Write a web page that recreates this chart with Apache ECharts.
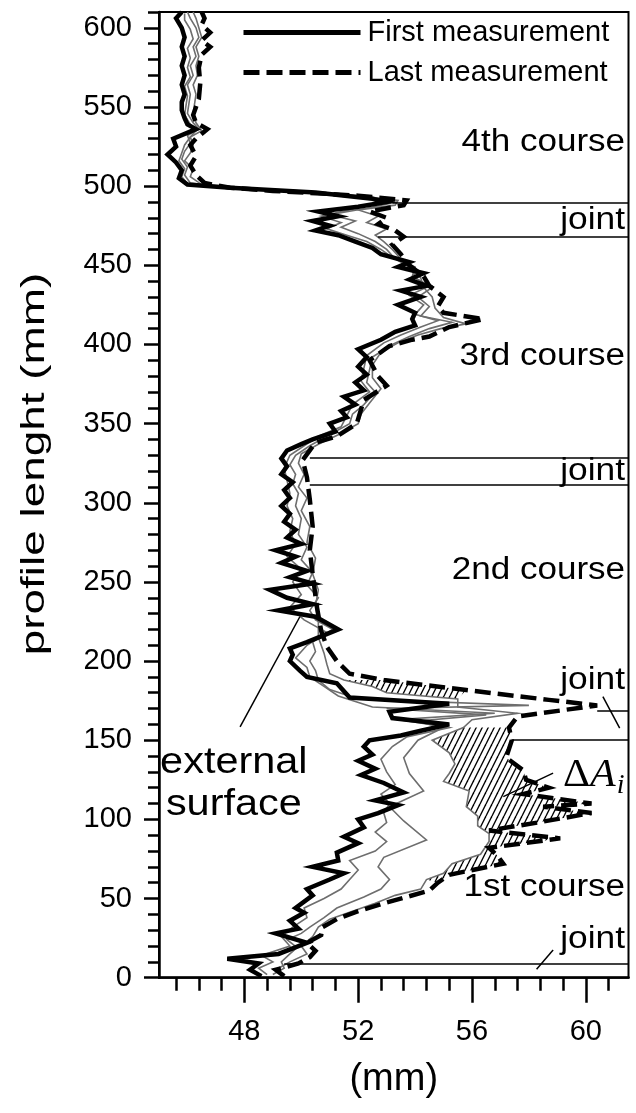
<!DOCTYPE html>
<html><head><meta charset="utf-8">
<script src="https://cdn.jsdelivr.net/npm/echarts@6/dist/echarts.min.js"></script>
<style>html,body{margin:0;padding:0;background:#fff}#c{width:636px;height:1113px}</style>
</head><body><div id="c"></div>
<script>
// ---- data: [x (mm), profile length (mm)] ----
const firstMeasurement = [
[48.6,1],[48.2,5],[48.5,9],[47.4,12],[49.2,15],[50.2,22],[49.1,28],[49.9,31],[49.6,36],[50.1,41],[49.8,44],[50.4,52],[50.2,56],[51.0,62],[51.5,66],[50.4,70],[51.3,74],[51.25,79],[52.0,85],[51.5,89],[52.2,95],[52.0,100],[52.7,104],[53.4,109],[52.6,112],[53.6,117],[52.9,123],[52.1,128],[52.6,132],[52.0,137],[52.5,141],[52.2,146],[52.4,150],[53.5,153],[54.2,156],[55.2,160],[53.2,164],[53.1,168],[55.2,173],[51.7,177],[51.25,186],[50.2,190],[49.95,194],[49.6,200],[49.7,204],[49.6,208],[50.2,212],[51.3,220],[50.5,228],[49.2,232],[50.4,236],[49.5,240],[48.9,245],[50.4,249],[49.6,253],[50.2,257],[49.3,262],[49.8,266],[49.1,270],[50.0,274],[49.5,278],[49.8,283],[49.4,288],[49.6,293],[49.3,298],[49.6,303],[49.4,308],[49.7,313],[49.3,318],[49.5,323],[49.3,328],[49.5,333],[50.0,337],[50.4,340],[51.2,345],[51.0,350],[51.6,354],[51.4,358],[51.9,362],[51.5,367],[52.2,371],[51.9,376],[52.3,381],[52.0,386],[52.3,392],[52.0,397],[52.8,403],[53.3,408],[54.0,412],[53.9,416],[54.0,420],[53.4,425],[54.2,430],[53.5,434],[54.4,437],[53.8,441],[54.3,445],[53.4,449],[53.8,452],[52.8,457],[52.5,461],[51.9,465],[51.3,469],[50.5,472],[51.0,475],[50.4,478],[51.3,481],[50.6,484],[52.0,487],[53.0,490],[52.5,492],[50.5,496],[47.5,499],[46.0,501],[45.7,505],[45.8,510],[45.6,515],[45.3,520],[45.6,525],[45.5,530],[46.3,536],[46.0,539],[45.9,543],[45.8,548],[45.8,553],[45.9,558],[45.8,564],[45.9,570],[45.8,576],[45.9,582],[45.8,588],[45.9,594],[45.8,600],[45.6,606],[45.8,610]
];
const lastMeasurement = [
[49.4,1],[49.1,5],[49.9,9],[50.3,13],[50.5,17],[50.2,22],[50.7,27],[50.75,32],[51.25,37],[52.0,42],[52.9,47],[53.7,51],[54.5,55],[54.8,60],[55.2,65],[57.1,72],[56.9,77],[56.6,82],[59.1,88],[56.6,93],[58.3,98],[60.2,104],[58.5,108],[60.2,110],[57.8,116],[58.7,120],[57.9,125],[57.8,131],[57.2,139],[57.4,150],[57.3,158],[57.6,165],[60.4,172],[58.7,175.5],[55.8,181.7],[52.9,188],[51.7,192],[51.25,200],[50.9,209],[50.7,219],[50.55,234],[50.4,255],[50.3,270],[50.4,285],[50.3,302],[50.2,316],[50.05,327],[50.5,338],[51.25,342],[51.95,350],[52.2,365],[53.0,374],[52.7,380],[52.4,390],[53.1,399],[53.9,403],[54.5,405],[55.2,411],[56.4,416],[55.0,420],[54.8,424],[55.0,430],[54.5,437],[54.3,443],[53.8,450],[53.5,457],[53.2,463],[53.6,468],[53.3,472],[52.7,476],[53.0,480],[52.4,484],[53.6,488],[53.7,491],[52.0,494],[49.0,497],[47.5,499],[46.6,502],[46.3,507],[46.1,513],[46.3,519],[46.1,526],[46.3,530],[46.7,536],[46.3,540],[46.2,545],[46.4,555],[46.45,565],[46.4,575],[46.5,583],[46.8,588],[46.5,592],[46.8,597],[46.5,602],[46.6,606],[46.5,610]
];
const intermediate1 = [
[48.8,2],[48.5,6],[49.0,10],[48.6,14],[49.6,20],[49.3,26],[49.7,32],[50.2,38],[50.1,44],[50.8,50],[51.4,56],[51.7,62],[52.0,68],[51.7,74],[52.6,80],[53.0,86],[52.6,92],[53.0,98],[52.9,104],[53.1,110],[52.8,116],[53.3,122],[53.0,130],[52.8,138],[53.2,146],[53.7,152],[55.2,158],[53.4,163],[56.8,167],[52.5,171],[51.3,178],[50.8,184],[50.3,190],[50.2,196],[49.8,202],[50.2,210],[50.9,218],[50.1,226],[49.6,234],[50.0,242],[49.7,250],[50.0,258],[49.5,266],[49.8,274],[49.6,282],[49.7,290],[49.5,298],[49.6,306],[49.5,314],[49.4,322],[49.6,330],[50.1,336],[50.6,342],[51.4,348],[51.6,355],[51.8,362],[52.4,370],[52.1,377],[52.2,385],[52.3,393],[52.9,401],[53.5,406],[54.2,411],[54.8,415],[54.0,419],[54.3,425],[53.8,431],[54.5,437],[53.9,443],[54.0,449],[53.2,455],[52.8,460],[52.3,465],[51.6,469],[50.9,473],[51.4,477],[50.7,481],[51.7,485],[52.6,489],[52.8,492],[50.3,496],[47.5,499],[46.0,501.5],[45.8,506],[45.9,511],[45.7,516],[45.8,521],[45.9,526],[46.1,531],[46.3,535],[46.1,539],[45.9,545],[45.95,551],[46.0,557],[45.9,563],[46.1,569],[46.0,575],[46.1,581],[46.0,587],[46.2,593],[46.1,599],[45.9,605],[45.9,609]
];
const intermediate2 = [
[49.0,2],[49.4,6],[49.3,10],[49.6,15],[49.85,19],[49.5,24],[50.0,28],[50.3,32],[50.8,38],[51.25,44],[52.2,51],[52.8,56],[53.1,62],[52.7,70],[52.9,76],[54.4,87],[53.6,99],[53.1,108],[54.3,118],[53.8,129],[53.6,139],[54.1,150],[55.0,158],[54.0,162],[56.5,166],[53.0,170],[58.0,172],[52.0,176],[51.0,182],[50.6,188],[50.5,194],[50.3,200],[50.5,206],[50.4,212],[51.1,220],[50.5,226],[50.3,232],[50.6,240],[50.2,248],[50.4,256],[50.0,264],[50.2,272],[49.9,280],[50.0,290],[49.8,298],[49.9,306],[49.7,312],[49.8,318],[49.6,324],[49.8,330],[50.3,336],[50.9,342],[51.7,350],[51.8,356],[52.2,362],[52.6,370],[52.3,376],[52.4,384],[52.5,392],[53.2,400],[53.8,405],[54.5,410],[55.3,414],[54.2,418],[54.5,424],[54.1,430],[54.6,436],[54.0,442],[53.9,448],[53.3,454],[53.0,460],[52.6,465],[52.0,470],[51.4,474],[51.9,478],[51.0,482],[52.3,486],[53.1,489],[52.5,493],[50.0,496.5],[47.5,499],[46.1,502],[45.9,507],[46.0,512],[45.8,517],[45.9,522],[46.1,527],[46.0,532],[46.4,536],[46.2,540],[46.0,546],[46.05,552],[46.1,558],[46.0,564],[46.2,570],[46.1,576],[46.3,582],[46.2,588],[46.4,594],[46.3,600],[46.1,606],[46.0,610]
];
const intermediate3 = [
[49.3,2],[49.2,6],[49.6,10],[50.2,15],[50.0,20],[50.4,26],[50.6,32],[51.0,37],[51.8,42],[52.6,47],[53.3,52],[54.2,56],[54.4,62],[55.0,66],[55.3,72],[56.3,78],[56.6,86],[56.6,91],[56.2,96],[56.2,102],[55.8,108],[55.9,118],[55.0,124],[55.2,129],[55.4,135],[55.2,142],[54.6,150],[55.7,158],[56.0,163],[57.6,167],[55.5,171],[55.5,176],[53.0,180],[52.5,184],[51.5,188],[51.0,192],[50.9,198],[50.8,205],[50.6,215],[50.6,225],[50.5,235],[50.6,245],[50.4,255],[50.5,265],[50.2,275],[50.3,285],[50.0,295],[50.2,303],[49.9,310],[50.1,318],[49.9,325],[50.0,331],[50.6,337],[51.3,343],[52.0,350],[52.1,356],[52.4,363],[52.8,372],[52.5,379],[52.5,387],[52.8,395],[53.4,401],[54.1,406],[54.9,410],[55.8,413],[55.0,417],[54.7,423],[54.6,430],[54.3,436],[54.2,442],[53.8,448],[53.5,454],[53.2,460],[52.9,465],[52.6,469],[53.0,473],[52.3,477],[52.7,481],[52.0,485],[53.3,488],[53.4,491],[51.5,495],[48.5,498],[46.5,501],[46.1,506],[46.2,511],[45.9,516],[46.1,521],[46.2,526],[46.1,531],[46.5,535],[46.3,540],[46.2,546],[46.25,552],[46.3,558],[46.2,564],[46.35,570],[46.3,576],[46.4,582],[46.3,588],[46.5,594],[46.4,600],[46.3,606],[46.2,610]
];
// hatched band (Delta A_i) between intermediate3 and last measurement: profile-length ranges
const hatchRanges = [[60,160],[176,189]];
// joints: [x start, profile length]
const jointLines = [[53.2,489.8],[52.7,468.3],[50.3,328.6],[50.3,311.2],[60.4,168.7],[57.4,150.2],[49.4,9.1]];
// leader lines [[x1,y1],[x2,y2]]
const leaderLines = [[[49.95,228],[47.85,158.5]],[[60.6,177.6],[61.19,157.6]],[[58.85,17.5],[58.27,5.3]],[[58.85,129.2],[57.1,114.4]]];
const courseLabels = ['4th course','3rd course','2nd course','1st course'];
const courseLevels = [527.5,392.3,257,56.7];
const jointLevels = [478.5,320,188,23.9];
const xMajorTicks = [48,52,56,60];
const xMinorTicks = [45.6,46.4,47.2,48,48.8,49.6,50.4,51.2,52,52.8,53.6,54.4,55.2,56,56.8,57.6,58.4,59.2,60,60.8];
const yMajorTicks = [0,50,100,150,200,250,300,350,400,450,500,550,600];
const yMinorTicks = [0,10,20,30,40,50,60,70,80,90,100,110,120,130,140,150,160,170,180,190,200,210,220,230,240,250,260,270,280,290,300,310,320,330,340,350,360,370,380,390,400,410,420,430,440,450,460,470,480,490,500,510,520,530,540,550,560,570,580,590,600,610];

const X_MIN=45, X_MAX=61.5, Y_MIN=0, Y_MAX=610;
const FONT = "'Liberation Sans', Arial, sans-serif";
const SERIF = "'Liberation Serif', 'Times New Roman', serif";

// annotation texts (anchored in data space)
const rightX = 61.38;
const annotations = [];
courseLabels.forEach((t,i)=>annotations.push({t:t, x:rightX, y:courseLevels[i], align:'right', size:31, sx:1.13}));
jointLevels.forEach(y=>annotations.push({t:'joint', x:rightX, y:y, align:'right', size:31, sx:1.14}));
annotations.push({t:'external', x:47.63, y:135.6, align:'center', size:37, sx:1.12});
annotations.push({t:'surface', x:47.63, y:109, align:'center', size:37, sx:1.12});
annotations.push({t:'{d|Δ}{a|A}', x:61.05, y:128, align:'right', size:40, sx:1.05, rich:true});
annotations.push({t:'i', x:61.22, y:121.5, align:'center', size:28, sx:1, family:SERIF, style:'italic'});

// hatch pattern
const hc = document.createElement('canvas');
hc.width = 6; hc.height = 12;
const hx = hc.getContext('2d');
hx.strokeStyle = '#000'; hx.lineWidth = 1.4;
[[-6,12,0,0],[0,12,6,0],[6,12,12,0]].forEach(([a,b,c,d])=>{hx.beginPath();hx.moveTo(a,b);hx.lineTo(c,d);hx.stroke();});

const chart = echarts.init(document.getElementById('c'), null, {renderer:'canvas'});

const markLineData = [];
jointLines.forEach(([x,y])=>markLineData.push([{coord:[x,y]},{coord:[X_MAX,y]}]));
leaderLines.forEach(([p,q])=>markLineData.push([{coord:p},{coord:q}]));

function greyLine(data){
  return {type:'line', data:data, symbol:'none', z:3, silent:true,
    lineStyle:{color:'#6e6e6e', width:1.6, join:'miter'}};
}

const option = {
  animation:false,
  backgroundColor:'#fff',
  grid:{left:159, right:7.5, top:12, bottom:135.3, show:true, borderColor:'#000', borderWidth:2, backgroundColor:'transparent'},
  legend:{data:['First measurement','Last measurement'], orient:'vertical', left:236, top:13, itemWidth:117, itemHeight:24, itemGap:11,
    itemStyle:{opacity:0}, lineStyle:{width:5},
    textStyle:{fontSize:29, fontFamily:FONT, color:'#000', padding:[0,0,0,2]}},
  xAxis:[
    {type:'value', min:X_MIN, max:X_MAX, position:'bottom',
     axisLine:{show:true, onZero:false, lineStyle:{color:'#000', width:2.5}},
     axisTick:{show:true, inside:false, length:25, customValues:xMajorTicks, lineStyle:{color:'#000', width:2.5}},
     axisLabel:{customValues:xMajorTicks, fontSize:29, fontFamily:FONT, color:'#000', margin:40},
     splitLine:{show:false},
     name:'(mm)', nameLocation:'middle', nameGap:83, nameTextStyle:{fontSize:38, fontFamily:FONT, color:'#000'}},
    {type:'value', min:X_MIN, max:X_MAX, position:'bottom',
     axisLine:{show:false, onZero:false},
     axisTick:{show:true, inside:false, length:13, customValues:xMinorTicks, lineStyle:{color:'#000', width:2.5}},
     axisLabel:{show:false}, splitLine:{show:false}}
  ],
  yAxis:[
    {type:'value', min:Y_MIN, max:Y_MAX, position:'left',
     axisLine:{show:true, onZero:false, lineStyle:{color:'#000', width:2.5}},
     axisTick:{show:true, inside:false, length:15, customValues:yMajorTicks, lineStyle:{color:'#000', width:2.5}},
     axisLabel:{customValues:yMajorTicks, fontSize:29, fontFamily:FONT, color:'#000', margin:27},
     splitLine:{show:false}},
    {type:'value', min:Y_MIN, max:Y_MAX, position:'left',
     axisLine:{show:false, onZero:false},
     axisTick:{show:true, inside:false, length:11, customValues:yMinorTicks, lineStyle:{color:'#000', width:2.5}},
     axisLabel:{show:false}, splitLine:{show:false}}
  ],
  graphic:[{type:'text', x:35, y:464, rotation:Math.PI/2, scaleX:1.35, silent:true,
    style:{text:'profile lenght (mm)', fontSize:34, fontFamily:FONT, fill:'#000', align:'center', verticalAlign:'middle'}}],
  series:[
    {type:'custom', name:'hatch', z:1, silent:true, data:[[X_MIN,Y_MIN]],
     renderItem:function(params, api){
       const children = hatchRanges.map(([y0,y1])=>{
         const a = intermediate3.filter(p=>p[1]>=y0 && p[1]<=y1);
         const b = lastMeasurement.filter(p=>p[1]>=y0 && p[1]<=y1).reverse();
         const pts = a.concat(b).map(p=>api.coord(p));
         return {type:'polygon', shape:{points:pts}, style:{fill:{image:hc, repeat:'repeat'}, stroke:null}};
       });
       return {type:'group', children:children};
     }},
    greyLine(intermediate1),
    greyLine(intermediate2),
    greyLine(intermediate3),
    {type:'line', name:'First measurement', data:firstMeasurement, symbol:'none', z:4, silent:true,
     lineStyle:{color:'#000', width:4.5, join:'miter', miterLimit:6}, itemStyle:{color:'#000'}},
    {type:'line', name:'Last measurement', data:lastMeasurement, symbol:'none', z:4, silent:true,
     lineStyle:{color:'#000', width:4.5, type:[16,7], join:'miter', miterLimit:6}, itemStyle:{color:'#000'}},
    {type:'line', name:'annotations', data:[], symbol:'none', z:5, silent:true,
     markLine:{silent:true, symbol:['none','none'], label:{show:false}, lineStyle:{color:'#000', width:1.5, type:'solid'}, data:markLineData}},
    {type:'custom', name:'labels', z:6, silent:true, data:annotations.map(a=>[a.x,a.y]),
     renderItem:function(params, api){
       const a = annotations[params.dataIndex];
       const p = api.coord([api.value(0), api.value(1)]);
       const style = {text:a.t, fontSize:a.size, fontFamily:a.family||FONT, fontStyle:a.style||'normal', fill:'#000', align:a.align, verticalAlign:'middle'};
       if (a.rich) {
         style.rich = {d:{fontSize:a.size, fontFamily:SERIF, fill:'#000'}, a:{fontSize:a.size, fontFamily:SERIF, fontStyle:'italic', fill:'#000'}};
       }
       return {type:'text', x:p[0], y:p[1], scaleX:a.sx, style:style};
     }}
  ]
};
chart.setOption(option);
</script>
</body></html>
